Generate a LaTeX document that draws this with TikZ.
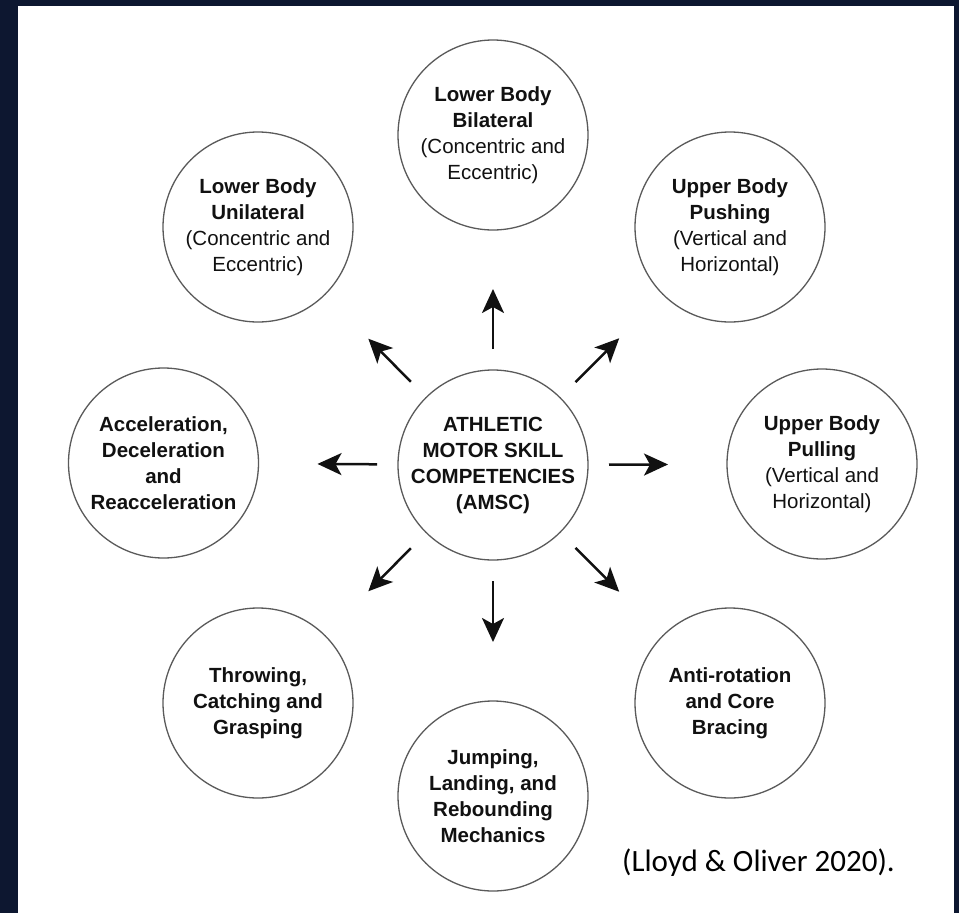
\documentclass[tikz,border=0pt]{standalone}
\usepackage{fontspec}
\setmainfont{Liberation Sans}
\newfontfamily\citefont{Carlito}
\usetikzlibrary{arrows.meta}
\definecolor{navy}{HTML}{0D1730}
\definecolor{ringgray}{HTML}{5A5A5A}
\definecolor{inkblack}{HTML}{111111}
\begin{document}
\begin{tikzpicture}[x=1pt,y=-1pt,
  skill/.style={circle, draw=ringgray, line width=1.3pt, minimum size=190pt,
    inner sep=0pt, align=center, text=inkblack,
    font=\fontsize{20.5}{26}\selectfont},
  spoke/.style={line width=2.5pt, draw=inkblack,
    -{Stealth[length=24pt,width=22pt,inset=6pt]},
    shorten <=116pt, shorten >=154pt},
  dspoke/.style={spoke, shorten <=117pt, shorten >=157pt}
]
% page frame: dark border with a white panel
\fill[navy] (0,0) rectangle (959,913);
\fill[white] (18,6) rectangle (954,913);
\useasboundingbox (0,0) rectangle (959,913);

% hub
\node[skill] (c) at (493,465)
  {\textbf{ATHLETIC}\\\textbf{MOTOR SKILL}\\\textbf{COMPETENCIES}\\\textbf{(AMSC)}};

% surrounding competencies
\node[skill] (n) at (493,135)
  {\textbf{Lower Body}\\\textbf{Bilateral}\\(Concentric and\\Eccentric)};
\node[skill] (ne) at (730,227)
  {\textbf{Upper Body}\\\textbf{Pushing}\\(Vertical and\\Horizontal)};
\node[skill] (e) at (822,464)
  {\textbf{Upper Body}\\\textbf{Pulling}\\(Vertical and\\Horizontal)};
\node[skill] (se) at (730,703)
  {\textbf{Anti-rotation}\\\textbf{and Core}\\\textbf{Bracing}};
\node[skill] (s) at (493,796)
  {\textbf{Jumping,}\\\textbf{Landing, and}\\\textbf{Rebounding}\\\textbf{Mechanics}};
\node[skill] (sw) at (258,703)
  {\textbf{Throwing,}\\\textbf{Catching and}\\\textbf{Grasping}};
\node[skill] (w) at (163.5,463)
  {\textbf{Acceleration,}\\\textbf{Deceleration}\\\textbf{and}\\\textbf{Reacceleration}};
\node[skill] (nw) at (258,227)
  {\textbf{Lower Body}\\\textbf{Unilateral}\\(Concentric and\\Eccentric)};

% spokes from the hub
\draw[spoke] (c.center) -- (n.center);
\draw[spoke] (c.center) -- (e.center);
\draw[spoke] (c.center) -- (s.center);
\draw[spoke] (c.center) -- (w.center);
\draw[dspoke] (c.center) -- (ne.center);
\draw[dspoke] (c.center) -- (se.center);
\draw[dspoke] (c.center) -- (sw.center);
\draw[dspoke] (c.center) -- (nw.center);

% source
\node[anchor=base west, inner sep=0pt, text=black,
  font=\citefont\fontsize{31}{36}\selectfont] (src) at (622,871)
  {(Lloyd \& Oliver 2020).};
\end{tikzpicture}
\end{document}
